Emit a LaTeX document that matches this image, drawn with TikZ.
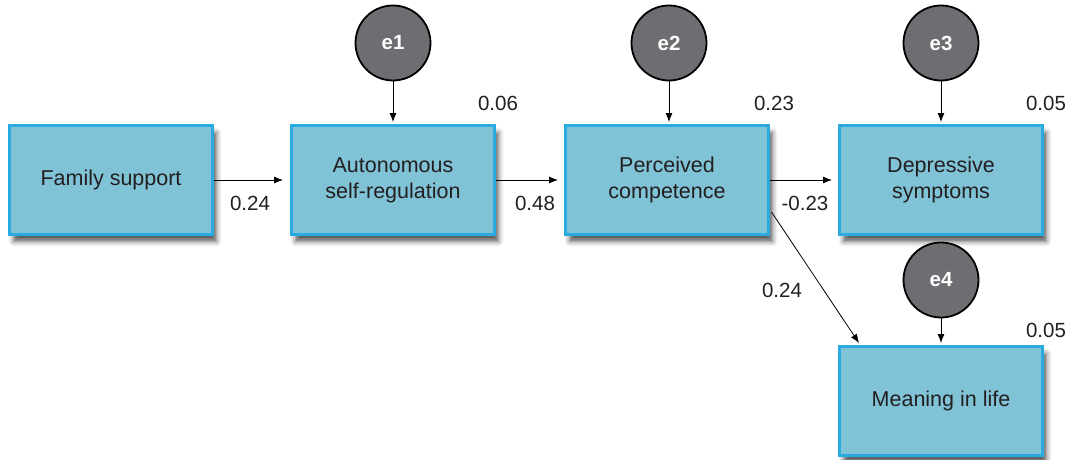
\documentclass[tikz,border=0pt]{standalone}
\usepackage{fontspec}
\setmainfont{Liberation Sans}
\usetikzlibrary{arrows.meta,shadows.blur}
\definecolor{boxfill}{HTML}{80C3D6}
\definecolor{boxline}{HTML}{29ABE2}
\definecolor{errfill}{HTML}{6D6E71}
\definecolor{txt}{HTML}{231F20}
\tikzset{
  varbox/.style={rectangle, draw=boxline, line width=3pt, fill=boxfill,
    minimum width=203pt, minimum height=109pt, align=center, text=txt,
    font=\fontsize{21.5}{26}\selectfont,
    blur shadow={shadow xshift=4pt, shadow yshift=-7pt, shadow blur radius=5pt, shadow opacity=65}},
  errc/.style={circle, draw=black, line width=1.8pt, fill=errfill, minimum size=75pt, inner sep=0pt,
    text=white, font=\fontsize{20.5}{24}\selectfont\bfseries},
  path/.style={draw=black, line width=0.8pt, -{Latex[length=9pt,width=7pt]}},
  coef/.style={text=txt, font=\fontsize{20.5}{24}\selectfont, inner sep=0pt}
}
\begin{document}
\begin{tikzpicture}[x=1pt,y=-1pt]
\useasboundingbox (0,0) rectangle (1068,460);
\node[varbox] (F) at (111,180) {Family support};
\node[varbox] (A) at (393,180) {Autonomous\\self-regulation};
\node[varbox] (P) at (667,180) {Perceived\\competence};
\node[varbox] (D) at (941,180) {Depressive\\symptoms};
\node[varbox] (M) at (941,401) {Meaning in life};
\node[errc] (e1) at (393,43) {e1};
\node[errc] (e2) at (669,43) {e2};
\node[errc] (e3) at (941,43) {e3};
\node[errc] (e4) at (941,280) {e4};
\draw[path, shorten >=7pt] (F) -- (A);
\draw[path, shorten >=6pt] (A) -- (P);
\draw[path, shorten >=6pt] (P) -- (D);
\draw[path, shorten >=2pt] (e1) -- (A);
\draw[path, shorten >=2pt] (e2) -- (e2 |- P.north);
\draw[path, shorten >=2pt] (e3) -- (D);
\draw[path, shorten >=2pt] (e4) -- (M);
\coordinate (pstart) at ([xshift=1.5pt,yshift=-32pt]P.east);
\coordinate (mend) at ([xshift=21pt,yshift=2pt]M.north west);
\draw[path] (pstart) -- (mend);
\node[coef] (c1) at (250,203) {0.24};
\node[coef] (c2) at (535,203) {0.48};
\node[coef] (c3) at (805,203) {-0.23};
\node[coef] (c4) at (782,290) {0.24};
\node[coef] (r1) at (498,103) {0.06};
\node[coef] (r2) at (774,103) {0.23};
\node[coef] (r3) at (1046,103) {0.05};
\node[coef] (r4) at (1046,330) {0.05};
\end{tikzpicture}
\end{document}
